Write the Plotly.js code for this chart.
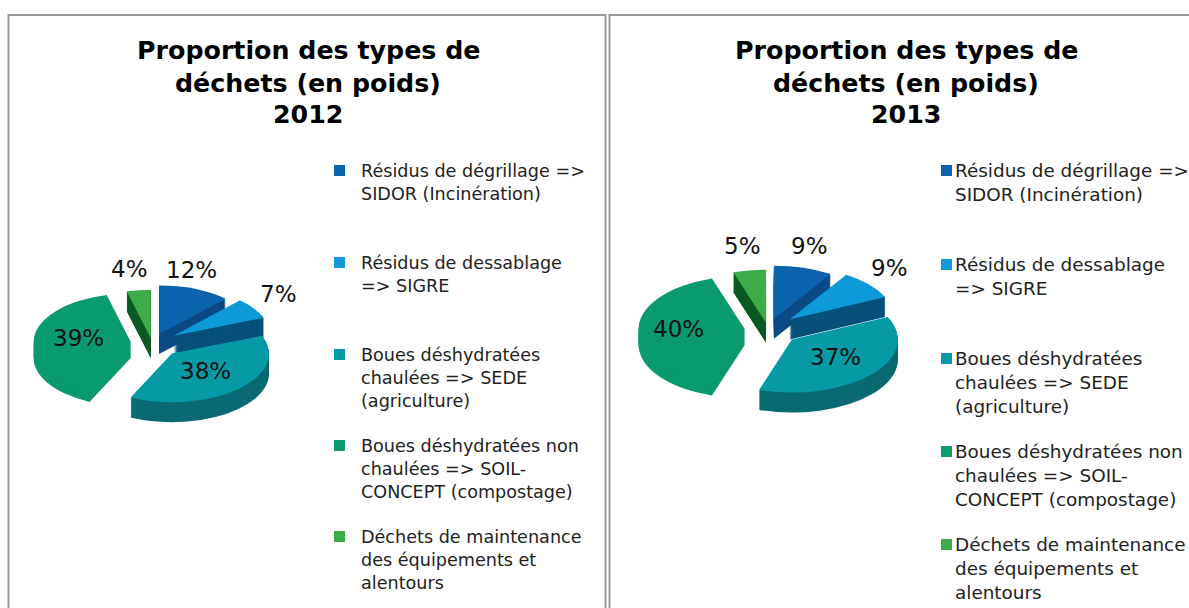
<!DOCTYPE html>
<html><head><meta charset="utf-8">
<script src="https://cdn.plot.ly/plotly-3.0.1.min.js"></script>
<style>html,body{margin:0;padding:0;background:#fff;overflow:hidden}#c{width:1189px;height:608px}</style>
</head><body><div id="c"></div>
<script>
const categories = ["Résidus de dégrillage", "Résidus de dessablage", "Boues déshydratées chaulées", "Boues déshydratées non chaulées", "Déchets de maintenance"];
const values2012 = [12, 7, 38, 39, 4];
const values2013 = [9, 9, 37, 40, 5];
const legendLabels = [
  "Résidus de dégrillage =><br>SIDOR (Incinération)",
  "Résidus de dessablage<br>=> SIGRE",
  "Boues déshydratées<br>chaulées => SEDE<br>(agriculture)",
  "Boues déshydratées non<br>chaulées => SOIL-<br>CONCEPT (compostage)",
  "Déchets de maintenance<br>des équipements et<br>alentours"
];
const topColors = ["#0b63ae", "#0e9ad8", "#059aa6", "#0a9a6f", "#3cab48"];
const sideColors = ["#0a4a86", "#07507c", "#0a6a72", "#0a9a6f", "#0a5a24"];
const titleLines = ["Proportion des types de", "déchets (en poids)"];

const W = 1189, H = 608, SQUASH = 0.5, DEPTH = 20, GREEN_DEPTH = 16;
const px = x => x / W, py = y => 1 - y / H;

const panels = [
  {values: values2012, year: "2012", cx: 152, cy: 343, r: 97, pull: [0.2, 0.27, 0.3, 0.22, 0.1],
   titleX: 308, titleY: [51, 83, 114], legendX: 359, legendSize: 17.6, legendTop: -11, swatchX: 334, legendY: [170, 262, 354, 445, 536],
   labelPos: [[191, 270], [278, 294], [205, 371], [78, 338], [129, 269]]},
  {values: values2013, year: "2013", cx: 768, cy: 329, r: 106, pull: [0.2, 0.27, 0.3, 0.22, 0.12],
   titleX: 906, titleY: [51, 83, 114], legendX: 953, legendSize: 18.4, legendTop: -12, swatchX: 941, legendY: [170, 264, 358, 451, 544],
   labelPos: [[809, 246], [889, 268], [835, 357], [678, 329], [742, 246]]}
];

const traces = [], traceCy = [], annotations = [], shapes = [];

panels.forEach(p => {
  const maxPull = Math.max(...p.pull);
  const D = 2 * p.r * (1 + maxPull);
  const mk = (offset, colors) => {
    traces.push({
      type: "pie", labels: categories, values: p.values, sort: false, direction: "clockwise", rotation: 0,
      pull: p.pull, textinfo: "none", hoverinfo: "label+percent", showlegend: false,
      marker: {colors: colors, line: {width: 0}},
      domain: {x: [px(p.cx - D / 2), px(p.cx + D / 2)],
               y: [py(p.cy + offset / SQUASH + D / 2), py(p.cy + offset / SQUASH - D / 2)]}
    });
    traceCy.push(p.cy);
  };
  for (let k = DEPTH; k >= 1; k--) {
    mk(k, sideColors.map((c, i) => (i === 3 && k > GREEN_DEPTH) ? "rgba(0,0,0,0)" : c));
  }
  mk(0, topColors);

  [...titleLines, p.year].forEach((t, i) => annotations.push({
    text: "<b>" + t + "</b>", xref: "paper", yref: "paper", x: px(p.titleX), y: py(p.titleY[i]),
    xanchor: "center", yanchor: "middle", showarrow: false,
    font: {family: "DejaVu Sans", size: 25.3, color: "#000"}
  }));
  p.values.forEach((v, i) => {
    annotations.push({
      text: v + "%", xref: "paper", yref: "paper", x: px(p.labelPos[i][0]), y: py(p.labelPos[i][1]),
      xanchor: "center", yanchor: "middle", showarrow: false,
      font: {family: "DejaVu Sans", size: 23, color: "#111"}
    });
    annotations.push({
      text: legendLabels[i], align: "left", xref: "paper", yref: "paper",
      x: px(p.legendX), y: py(p.legendY[i] + p.legendTop), xanchor: "left", yanchor: "top", showarrow: false,
      font: {family: "DejaVu Sans", size: p.legendSize, color: "#222"}
    });
    shapes.push({type: "rect", xref: "paper", yref: "paper",
      x0: px(p.swatchX), x1: px(p.swatchX + 11), y0: py(p.legendY[i] - 5), y1: py(p.legendY[i] + 6),
      fillcolor: topColors[i], line: {width: 0}});
  });
});

// cadres des deux panneaux
const frame = (x0, x1, y0, y1) => shapes.push({type: "rect", xref: "paper", yref: "paper",
  x0: px(x0), x1: px(x1), y0: py(y1), y1: py(y0), line: {color: "#999", width: 2}, layer: "below"});
frame(8.5, 605.5, 15, 640);
frame(609.5, 1230, 15, 640);

Plotly.newPlot("c", traces, {
  width: W, height: H, margin: {l: 0, r: 0, t: 0, b: 0},
  paper_bgcolor: "#fff", plot_bgcolor: "#fff", showlegend: false,
  annotations: annotations, shapes: shapes
}, {staticPlot: true, displayModeBar: false}).then(gd => {
  // perspective: flatten each pie vertically around its own centre
  gd.querySelectorAll(".pielayer .trace").forEach((g, i) => {
    const cy = traceCy[i];
    g.setAttribute("transform", `translate(0,${cy}) scale(1,${SQUASH}) translate(0,${-cy})`);
  });
});
</script></body></html>
